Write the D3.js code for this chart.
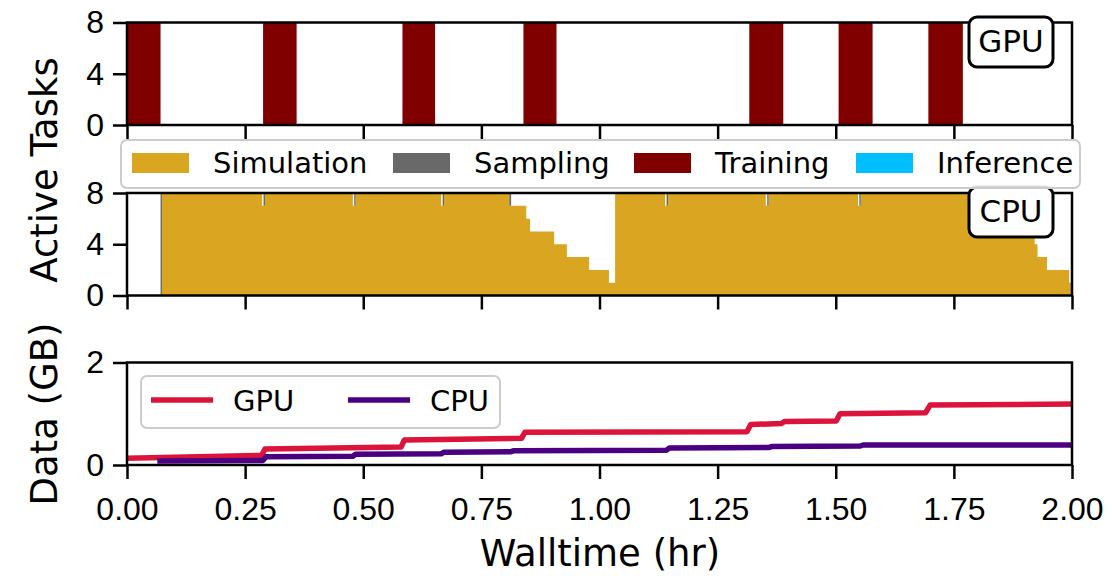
<!DOCTYPE html>
<html>
<head>
<meta charset="utf-8">
<script src="https://cdn.jsdelivr.net/npm/d3@7"></script>
<style>
body { margin: 0; background: #fff; }
svg { display: block; font-family: "DejaVu Sans", sans-serif; }
</style>
</head>
<body>
<svg width="1112" height="576"></svg>
<script>
// task categories + colours
var taskKeys = ["Simulation", "Sampling", "Training", "Inference"];
var taskColors = ["#DAA520", "#696969", "#800000", "#00BFFF"];

// GPU: training bursts (hr), 8 tasks each
var gpuTrainStart = [0.0, 0.288, 0.583, 0.839, 1.317, 1.506, 1.696];
var gpuTrainEnd   = [0.071, 0.359, 0.652, 0.909, 1.389, 1.578, 1.769];
var gpuTrainCount = 8;

// CPU: step changes (value holds until next time)
var cpuTimes = [0, 0.071, 0.074,
    0.286, 0.289, 0.292,
    0.478, 0.481, 0.484,
    0.665, 0.668, 0.671,
    0.809, 0.813, 0.845, 0.853, 0.904, 0.931, 0.978, 1.020,
    1.033,
    1.139, 1.142, 1.145,
    1.352, 1.355, 1.358,
    1.547, 1.550, 1.553,
    1.921, 1.927, 1.947, 1.994, 2.0];
var cpuSimulation = [0, 0, 8,
    7, 7, 8,
    7, 7, 8,
    7, 7, 8,
    7, 7, 6, 5, 4, 3, 2, 1,
    8,
    7, 7, 8,
    7, 7, 8,
    7, 7, 8,
    4, 3, 2, 1, 1];
var cpuSampling = [0, 8, 0,
    0, 1, 0,
    0, 1, 0,
    0, 1, 0,
    1, 0, 0, 0, 0, 0, 0, 0,
    0,
    0, 1, 0,
    0, 1, 0,
    0, 1, 0,
    0, 0, 0, 0, 0];

// data held (GB)
var dataGpuTime = [0, 0.285, 0.292, 0.580, 0.587, 0.835, 0.842, 1.312, 1.320, 1.385, 1.392, 1.501, 1.509, 1.690, 1.700, 2.0];
var dataGpuGB   = [0.13, 0.19, 0.31, 0.35, 0.49, 0.52, 0.64, 0.65, 0.79, 0.81, 0.85, 0.86, 1.00, 1.02, 1.17, 1.19];
var dataCpuTime = [0.07, 0.288, 0.294, 0.478, 0.484, 0.665, 0.671, 0.813, 0.819, 1.142, 1.148, 1.358, 1.364, 1.552, 1.558, 2.0];
var dataCpuGB   = [0.08, 0.09, 0.16, 0.17, 0.21, 0.22, 0.25, 0.26, 0.28, 0.29, 0.33, 0.34, 0.36, 0.37, 0.39, 0.39];

var xTicks = [0, 0.25, 0.5, 0.75, 1.0, 1.25, 1.5, 1.75, 2.0];
var taskTicks = [0, 4, 8];
var dataTicks = [0, 2];

var svg = d3.select("svg");
var x = d3.scaleLinear().domain([0, 2]).range([127, 1072]);

var yGpu = d3.scaleLinear().domain([0, 8]).range([125, 22.5]);
var yCpu = d3.scaleLinear().domain([0, 8]).range([295.5, 193]);
var yData = d3.scaleLinear().domain([0, 2]).range([465, 362.5]);

function makeRows(times, vals) {
    return times.map(function(t, i) {
        var r = {t: t};
        taskKeys.forEach(function(k) { r[k] = vals[k] ? vals[k][i] : 0; });
        return r;
    });
}

// gpu rows from intervals
var gpuT = [0], gpuV = [0];
gpuTrainStart.forEach(function(s, i) {
    gpuT.push(s); gpuV.push(gpuTrainCount);
    gpuT.push(gpuTrainEnd[i]); gpuV.push(0);
});
gpuT.push(2.0); gpuV.push(0);
var gpuRows = makeRows(gpuT, {Training: gpuV});
var cpuRows = makeRows(cpuTimes, {Simulation: cpuSimulation, Sampling: cpuSampling});

var stack = d3.stack().keys(taskKeys);

function drawPanel(id, y, ticks, showLabels) {
    var top = y.range()[1], bot = y.range()[0];
    svg.append("clipPath").attr("id", id)
        .append("rect").attr("x", x(0)).attr("y", top)
        .attr("width", x(2) - x(0)).attr("height", bot - top);
    var g = svg.append("g");
    var plot = g.append("g").attr("clip-path", "url(#" + id + ")");

    var xa = g.append("g").attr("transform", "translate(0," + bot + ")")
        .call(d3.axisBottom(x).tickValues(xTicks).tickSize(14).tickSizeOuter(0).tickPadding(18)
            .tickFormat(showLabels ? d3.format(".2f") : ""));
    var ya = g.append("g").attr("transform", "translate(" + x(0) + ",0)")
        .call(d3.axisLeft(y).tickValues(ticks).tickSize(14).tickSizeOuter(0).tickPadding(9)
            .tickFormat(d3.format("d")));
    [xa, ya].forEach(function(a) {
        a.select(".domain").remove();
        a.selectAll(".tick line").attr("stroke", "#000").attr("stroke-width", 2.5);
        a.selectAll(".tick text").attr("fill", "#000").style("font-size", "32px");
    });
    g.append("rect").attr("x", x(0)).attr("y", top)
        .attr("width", x(2) - x(0)).attr("height", bot - top)
        .attr("fill", "none").attr("stroke", "#000").attr("stroke-width", 2.5);
    return plot;
}

function drawStack(plot, rows, y) {
    var area = d3.area().curve(d3.curveStepAfter)
        .x(function(d) { return x(d.data.t); })
        .y0(function(d) { return y(d[0]); })
        .y1(function(d) { return y(d[1]); });
    plot.selectAll("path.layer").data(stack(rows)).enter().append("path")
        .attr("class", "layer")
        .attr("fill", function(d, i) { return taskColors[i]; })
        .attr("d", area);
}

function labelBox(txt, cx, topY) {
    svg.append("rect").attr("x", cx - 42).attr("y", topY).attr("width", 84).attr("height", 50)
        .attr("rx", 8).attr("fill", "#fff").attr("stroke", "#000").attr("stroke-width", 3);
    svg.append("text").attr("x", cx).attr("y", topY + 35).attr("text-anchor", "middle")
        .style("font-size", "31px").text(txt);
}

var gpuPlot = drawPanel("clipGpu", yGpu, taskTicks, false);
drawStack(gpuPlot, gpuRows, yGpu);
labelBox("GPU", 1011, 17);

var cpuPlot = drawPanel("clipCpu", yCpu, taskTicks, false);
drawStack(cpuPlot, cpuRows, yCpu);
labelBox("CPU", 1011, 187);

// task legend
var leg = svg.append("g");
leg.append("rect").attr("x", 121).attr("y", 140).attr("width", 959).attr("height", 48)
    .attr("rx", 6).attr("fill", "#fff").attr("fill-opacity", 0.85)
    .attr("stroke", "#cccccc").attr("stroke-width", 2);
var legX = [132, 393, 634, 856];
taskKeys.forEach(function(k, i) {
    leg.append("rect").attr("x", legX[i]).attr("y", 153).attr("width", 57).attr("height", 20)
        .attr("fill", taskColors[i]);
    leg.append("text").attr("x", legX[i] + 81).attr("y", 173).style("font-size", "29px").text(k);
});

// data panel
var dataPlot = drawPanel("clipData", yData, dataTicks, true);
var line = d3.line().x(function(d) { return x(d[0]); }).y(function(d) { return yData(d[1]); });
var dataSeries = [
    {name: "GPU", color: "#DC143C", pts: d3.zip(dataGpuTime, dataGpuGB)},
    {name: "CPU", color: "#4B0082", pts: d3.zip(dataCpuTime, dataCpuGB)}
];
dataSeries.forEach(function(s) {
    dataPlot.append("path").attr("d", line(s.pts)).attr("fill", "none")
        .attr("stroke", s.color).attr("stroke-width", 5.5)
        .attr("stroke-linejoin", "round").attr("stroke-linecap", "square");
});

var leg2 = svg.append("g");
leg2.append("rect").attr("x", 141).attr("y", 376).attr("width", 359).attr("height", 52)
    .attr("rx", 6).attr("fill", "#fff").attr("fill-opacity", 0.85)
    .attr("stroke", "#cccccc").attr("stroke-width", 2);
var leg2X = [151, 348];
dataSeries.forEach(function(s, i) {
    leg2.append("line").attr("x1", leg2X[i]).attr("x2", leg2X[i] + 62).attr("y1", 400).attr("y2", 400)
        .attr("stroke", s.color).attr("stroke-width", 5.5);
    leg2.append("text").attr("x", leg2X[i] + 82).attr("y", 411).style("font-size", "29px").text(s.name);
});

// axis titles
svg.append("text").attr("transform", "translate(57,170) rotate(-90)")
    .attr("text-anchor", "middle").style("font-size", "37px").text("Active Tasks");
svg.append("text").attr("transform", "translate(57,414) rotate(-90)")
    .attr("text-anchor", "middle").style("font-size", "37px").text("Data (GB)");
svg.append("text").attr("x", 600).attr("y", 566)
    .attr("text-anchor", "middle").style("font-size", "37px").text("Walltime (hr)");
</script>
</body>
</html>
